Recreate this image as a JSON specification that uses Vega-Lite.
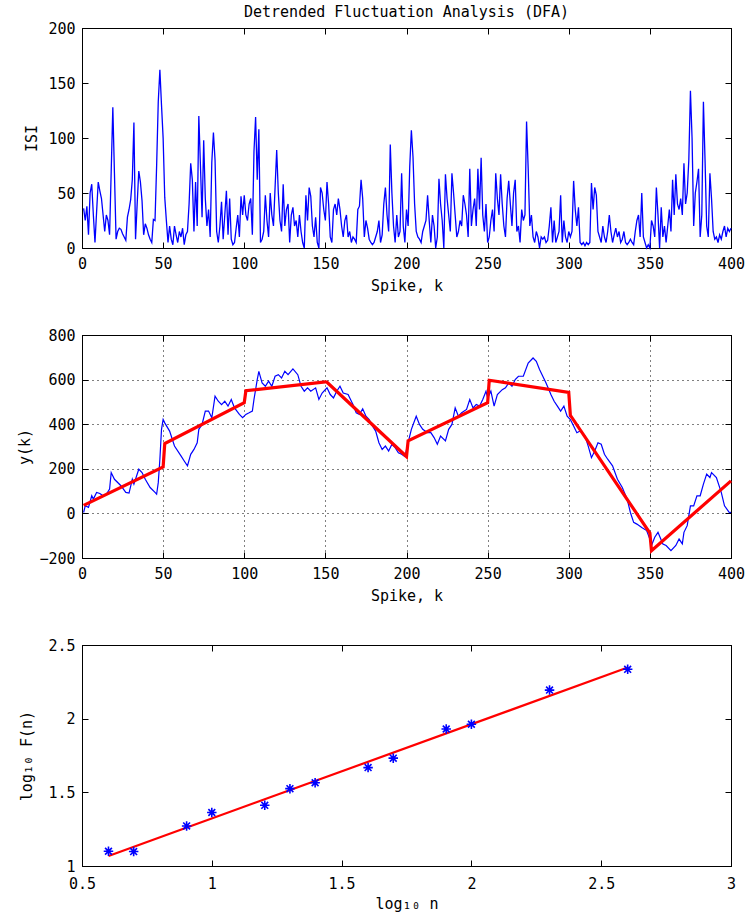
{
  "$schema": "https://vega.github.io/schema/vega-lite/v6.json",
  "background": "white",
  "padding": {"left": 17, "top": 4, "right": 2, "bottom": 8},
  "config": {
    "font": "DejaVu Sans Mono",
    "view": {"stroke": "black", "strokeWidth": 1},
    "axis": {
      "labelFont": "DejaVu Sans Mono", "titleFont": "DejaVu Sans Mono",
      "labelFontSize": 15, "titleFontSize": 15, "titleFontWeight": "normal",
      "labelColor": "black", "titleColor": "black",
      "domainColor": "black", "tickColor": "black", "tickSize": -6,
      "labelPadding": 13, "grid": false, "labelFlush": false, "labelOverlap": false
    },
    "axisX": {"labelPadding": 14},
    "title": {"font": "DejaVu Sans Mono", "fontSize": 15, "fontWeight": "normal", "color": "black"}
  },
  "datasets": {
    "isi": [
      {"k":1,"v":36},{"k":2,"v":25},{"k":3,"v":38},{"k":4,"v":12},{"k":5,"v":50},{"k":6,"v":58},{"k":7,"v":30},{"k":8,"v":5},{"k":9,"v":33},{"k":10,"v":60},
      {"k":11,"v":52},{"k":12,"v":45},{"k":13,"v":30},{"k":14,"v":15},{"k":15,"v":30},{"k":16,"v":25},{"k":17,"v":12},{"k":18,"v":70},{"k":19,"v":128},{"k":20,"v":68},
      {"k":21,"v":8},{"k":22,"v":15},{"k":23,"v":18},{"k":24,"v":17},{"k":25,"v":13},{"k":26,"v":10},{"k":27,"v":7},{"k":28,"v":28},{"k":29,"v":35},{"k":30,"v":44},
      {"k":31,"v":62},{"k":32,"v":114},{"k":33,"v":8},{"k":34,"v":40},{"k":35,"v":70},{"k":36,"v":60},{"k":37,"v":43},{"k":38,"v":12},{"k":39,"v":22},{"k":40,"v":18},
      {"k":41,"v":12},{"k":42,"v":8},{"k":43,"v":5},{"k":44,"v":26},{"k":45,"v":25},{"k":46,"v":75},{"k":47,"v":133},{"k":48,"v":162},{"k":49,"v":130},{"k":50,"v":100},
      {"k":51,"v":46},{"k":52,"v":25},{"k":53,"v":5},{"k":54,"v":20},{"k":55,"v":8},{"k":56,"v":3},{"k":57,"v":20},{"k":58,"v":12},{"k":59,"v":5},{"k":60,"v":15},
      {"k":61,"v":10},{"k":62,"v":18},{"k":63,"v":3},{"k":64,"v":12},{"k":65,"v":15},{"k":66,"v":40},{"k":67,"v":77},{"k":68,"v":62},{"k":69,"v":15},{"k":70,"v":60},
      {"k":71,"v":20},{"k":72,"v":120},{"k":73,"v":75},{"k":74,"v":28},{"k":75,"v":98},{"k":76,"v":45},{"k":77,"v":20},{"k":78,"v":35},{"k":79,"v":10},{"k":80,"v":78},
      {"k":81,"v":105},{"k":82,"v":80},{"k":83,"v":15},{"k":84,"v":5},{"k":85,"v":20},{"k":86,"v":42},{"k":87,"v":8},{"k":88,"v":30},{"k":89,"v":52},{"k":90,"v":12},
      {"k":91,"v":45},{"k":92,"v":8},{"k":93,"v":3},{"k":94,"v":5},{"k":95,"v":18},{"k":96,"v":30},{"k":97,"v":10},{"k":98,"v":47},{"k":99,"v":30},{"k":100,"v":48},
      {"k":101,"v":30},{"k":102,"v":25},{"k":103,"v":40},{"k":104,"v":45},{"k":105,"v":12},{"k":106,"v":88},{"k":107,"v":119},{"k":108,"v":62},{"k":109,"v":108},{"k":110,"v":5},
      {"k":111,"v":8},{"k":112,"v":15},{"k":113,"v":48},{"k":114,"v":25},{"k":115,"v":10},{"k":116,"v":50},{"k":117,"v":30},{"k":118,"v":20},{"k":119,"v":55},{"k":120,"v":89},
      {"k":121,"v":50},{"k":122,"v":25},{"k":123,"v":15},{"k":124,"v":58},{"k":125,"v":20},{"k":126,"v":35},{"k":127,"v":40},{"k":128,"v":5},{"k":129,"v":30},{"k":130,"v":37},
      {"k":131,"v":20},{"k":132,"v":25},{"k":133,"v":10},{"k":134,"v":30},{"k":135,"v":15},{"k":136,"v":5},{"k":137,"v":0},{"k":138,"v":48},{"k":139,"v":25},{"k":140,"v":55},
      {"k":141,"v":47},{"k":142,"v":20},{"k":143,"v":10},{"k":144,"v":28},{"k":145,"v":5},{"k":146,"v":0},{"k":147,"v":55},{"k":148,"v":50},{"k":149,"v":35},{"k":150,"v":25},
      {"k":151,"v":60},{"k":152,"v":40},{"k":153,"v":10},{"k":154,"v":5},{"k":155,"v":35},{"k":156,"v":40},{"k":157,"v":30},{"k":158,"v":45},{"k":159,"v":35},{"k":160,"v":20},
      {"k":161,"v":10},{"k":162,"v":25},{"k":163,"v":30},{"k":164,"v":10},{"k":165,"v":15},{"k":166,"v":5},{"k":167,"v":10},{"k":168,"v":8},{"k":169,"v":5},{"k":170,"v":35},
      {"k":171,"v":38},{"k":172,"v":62},{"k":173,"v":45},{"k":174,"v":10},{"k":175,"v":25},{"k":176,"v":18},{"k":177,"v":8},{"k":178,"v":5},{"k":179,"v":3},{"k":180,"v":5},
      {"k":181,"v":10},{"k":182,"v":15},{"k":183,"v":25},{"k":184,"v":5},{"k":185,"v":12},{"k":186,"v":40},{"k":187,"v":55},{"k":188,"v":30},{"k":189,"v":15},{"k":190,"v":94},
      {"k":191,"v":50},{"k":192,"v":20},{"k":193,"v":5},{"k":194,"v":30},{"k":195,"v":10},{"k":196,"v":15},{"k":197,"v":68},{"k":198,"v":20},{"k":199,"v":5},{"k":200,"v":35},
      {"k":201,"v":20},{"k":202,"v":74},{"k":203,"v":107},{"k":204,"v":83},{"k":205,"v":40},{"k":206,"v":15},{"k":207,"v":10},{"k":208,"v":8},{"k":209,"v":5},{"k":210,"v":15},
      {"k":211,"v":20},{"k":212,"v":25},{"k":213,"v":48},{"k":214,"v":25},{"k":215,"v":5},{"k":216,"v":30},{"k":217,"v":20},{"k":218,"v":0},{"k":219,"v":10},{"k":220,"v":63},
      {"k":221,"v":40},{"k":222,"v":25},{"k":223,"v":0},{"k":224,"v":67},{"k":225,"v":45},{"k":226,"v":30},{"k":227,"v":15},{"k":228,"v":68},{"k":229,"v":50},{"k":230,"v":30},
      {"k":231,"v":10},{"k":232,"v":15},{"k":233,"v":25},{"k":234,"v":20},{"k":235,"v":48},{"k":236,"v":40},{"k":237,"v":30},{"k":238,"v":10},{"k":239,"v":72},{"k":240,"v":20},
      {"k":241,"v":35},{"k":242,"v":45},{"k":243,"v":20},{"k":244,"v":72},{"k":245,"v":35},{"k":246,"v":82},{"k":247,"v":30},{"k":248,"v":15},{"k":249,"v":40},{"k":250,"v":5},
      {"k":251,"v":10},{"k":252,"v":25},{"k":253,"v":35},{"k":254,"v":15},{"k":255,"v":68},{"k":256,"v":45},{"k":257,"v":30},{"k":258,"v":67},{"k":259,"v":40},{"k":260,"v":20},
      {"k":261,"v":10},{"k":262,"v":45},{"k":263,"v":61},{"k":264,"v":40},{"k":265,"v":20},{"k":266,"v":50},{"k":267,"v":62},{"k":268,"v":15},{"k":269,"v":20},{"k":270,"v":5},
      {"k":271,"v":35},{"k":272,"v":25},{"k":273,"v":30},{"k":274,"v":115},{"k":275,"v":72},{"k":276,"v":20},{"k":277,"v":30},{"k":278,"v":10},{"k":279,"v":5},{"k":280,"v":15},
      {"k":281,"v":10},{"k":282,"v":0},{"k":283,"v":10},{"k":284,"v":8},{"k":285,"v":10},{"k":286,"v":5},{"k":287,"v":7},{"k":288,"v":20},{"k":289,"v":37},{"k":290,"v":5},
      {"k":291,"v":25},{"k":292,"v":5},{"k":293,"v":10},{"k":294,"v":15},{"k":295,"v":48},{"k":296,"v":5},{"k":297,"v":25},{"k":298,"v":10},{"k":299,"v":5},{"k":300,"v":15},
      {"k":301,"v":10},{"k":302,"v":15},{"k":303,"v":61},{"k":304,"v":35},{"k":305,"v":20},{"k":306,"v":37},{"k":307,"v":5},{"k":308,"v":3},{"k":309,"v":5},{"k":310,"v":2},
      {"k":311,"v":5},{"k":312,"v":3},{"k":313,"v":5},{"k":314,"v":59},{"k":315,"v":35},{"k":316,"v":55},{"k":317,"v":48},{"k":318,"v":15},{"k":319,"v":10},{"k":320,"v":5},
      {"k":321,"v":20},{"k":322,"v":10},{"k":323,"v":5},{"k":324,"v":15},{"k":325,"v":30},{"k":326,"v":15},{"k":327,"v":5},{"k":328,"v":12},{"k":329,"v":18},{"k":330,"v":10},
      {"k":331,"v":15},{"k":332,"v":5},{"k":333,"v":8},{"k":334,"v":15},{"k":335,"v":5},{"k":336,"v":3},{"k":337,"v":5},{"k":338,"v":8},{"k":339,"v":5},{"k":340,"v":3},
      {"k":341,"v":15},{"k":342,"v":25},{"k":343,"v":30},{"k":344,"v":10},{"k":345,"v":50},{"k":346,"v":10},{"k":347,"v":5},{"k":348,"v":0},{"k":349,"v":3},{"k":350,"v":0},
      {"k":351,"v":25},{"k":352,"v":20},{"k":353,"v":10},{"k":354,"v":55},{"k":355,"v":30},{"k":356,"v":0},{"k":357,"v":37},{"k":358,"v":10},{"k":359,"v":20},{"k":360,"v":5},
      {"k":361,"v":20},{"k":362,"v":35},{"k":363,"v":15},{"k":364,"v":62},{"k":365,"v":30},{"k":366,"v":67},{"k":367,"v":40},{"k":368,"v":35},{"k":369,"v":45},{"k":370,"v":30},
      {"k":371,"v":77},{"k":372,"v":40},{"k":373,"v":50},{"k":374,"v":80},{"k":375,"v":143},{"k":376,"v":100},{"k":377,"v":20},{"k":378,"v":50},{"k":379,"v":60},{"k":380,"v":72},
      {"k":381,"v":10},{"k":382,"v":30},{"k":383,"v":133},{"k":384,"v":80},{"k":385,"v":20},{"k":386,"v":10},{"k":387,"v":68},{"k":388,"v":45},{"k":389,"v":15},{"k":390,"v":8},
      {"k":391,"v":10},{"k":392,"v":5},{"k":393,"v":12},{"k":394,"v":8},{"k":395,"v":15},{"k":396,"v":20},{"k":397,"v":10},{"k":398,"v":18},{"k":399,"v":15},{"k":400,"v":18}
    ],
    "profile": [
      {"k":1,"y":4},{"k":2,"y":34},{"k":4,"y":27},{"k":6,"y":79},{"k":7,"y":64},{"k":9,"y":94},{"k":11,"y":89},{"k":13,"y":79},{"k":15,"y":86},{"k":17,"y":109},
      {"k":18,"y":183},{"k":20,"y":153},{"k":24,"y":124},{"k":27,"y":94},{"k":29,"y":91},{"k":31,"y":153},{"k":32,"y":131},{"k":35,"y":198},{"k":37,"y":183},{"k":39,"y":153},
      {"k":42,"y":116},{"k":45,"y":94},{"k":46,"y":86},{"k":47,"y":138},{"k":48,"y":243},{"k":49,"y":377},{"k":50,"y":421},{"k":51,"y":406},{"k":54,"y":369},{"k":57,"y":302},
      {"k":61,"y":258},{"k":63,"y":235},{"k":65,"y":213},{"k":67,"y":265},{"k":69,"y":287},{"k":71,"y":317},{"k":72,"y":377},{"k":74,"y":399},{"k":76,"y":459},{"k":78,"y":459},
      {"k":80,"y":429},{"k":82,"y":526},{"k":84,"y":503},{"k":86,"y":488},{"k":88,"y":503},{"k":90,"y":481},{"k":92,"y":511},{"k":94,"y":473},{"k":97,"y":444},{"k":99,"y":429},
      {"k":101,"y":444},{"k":103,"y":451},{"k":105,"y":459},{"k":106,"y":511},{"k":108,"y":600},{"k":109,"y":637},{"k":111,"y":585},{"k":113,"y":570},{"k":115,"y":593},{"k":117,"y":570},
      {"k":119,"y":615},{"k":121,"y":622},{"k":123,"y":607},{"k":125,"y":637},{"k":127,"y":622},{"k":130,"y":648},{"k":133,"y":622},{"k":135,"y":570},{"k":137,"y":548},{"k":139,"y":563},
      {"k":141,"y":548},{"k":144,"y":563},{"k":146,"y":511},{"k":148,"y":540},{"k":151,"y":563},{"k":153,"y":533},{"k":155,"y":518},{"k":157,"y":548},{"k":159,"y":570},{"k":161,"y":540},
      {"k":164,"y":533},{"k":167,"y":488},{"k":169,"y":451},{"k":171,"y":444},{"k":173,"y":469},{"k":175,"y":436},{"k":177,"y":421},{"k":179,"y":392},{"k":181,"y":369},{"k":183,"y":317},
      {"k":185,"y":287},{"k":187,"y":302},{"k":189,"y":280},{"k":191,"y":310},{"k":193,"y":295},{"k":195,"y":272},{"k":197,"y":265},{"k":199,"y":255},{"k":201,"y":317},{"k":203,"y":377},
      {"k":206,"y":436},{"k":208,"y":399},{"k":210,"y":377},{"k":213,"y":362},{"k":215,"y":362},{"k":217,"y":340},{"k":219,"y":310},{"k":221,"y":347},{"k":224,"y":325},{"k":226,"y":377},
      {"k":228,"y":399},{"k":230,"y":473},{"k":232,"y":436},{"k":234,"y":451},{"k":237,"y":466},{"k":239,"y":511},{"k":241,"y":473},{"k":243,"y":488},{"k":245,"y":481},{"k":247,"y":511},
      {"k":249,"y":548},{"k":250,"y":518},{"k":252,"y":548},{"k":254,"y":481},{"k":256,"y":533},{"k":259,"y":555},{"k":261,"y":563},{"k":263,"y":585},{"k":265,"y":570},{"k":267,"y":600},
      {"k":269,"y":615},{"k":272,"y":615},{"k":275,"y":674},{"k":278,"y":697},{"k":280,"y":682},{"k":282,"y":645},{"k":284,"y":615},{"k":286,"y":585},{"k":289,"y":533},{"k":291,"y":503},
      {"k":293,"y":481},{"k":295,"y":459},{"k":297,"y":481},{"k":299,"y":436},{"k":301,"y":421},{"k":303,"y":392},{"k":305,"y":362},{"k":307,"y":370},{"k":310,"y":347},{"k":312,"y":302},
      {"k":314,"y":250},{"k":316,"y":280},{"k":318,"y":317},{"k":320,"y":310},{"k":322,"y":265},{"k":324,"y":243},{"k":327,"y":213},{"k":330,"y":153},{"k":333,"y":116},{"k":336,"y":64},
      {"k":338,"y":4},{"k":340,"y":-40},{"k":342,"y":-48},{"k":345,"y":-63},{"k":348,"y":-77},{"k":350,"y":-115},{"k":351,"y":-144},{"k":353,"y":-107},{"k":355,"y":-85},{"k":358,"y":-137},
      {"k":360,"y":-144},{"k":363,"y":-167},{"k":366,"y":-144},{"k":368,"y":-115},{"k":370,"y":-137},{"k":371,"y":-85},{"k":373,"y":-55},{"k":375,"y":34},{"k":377,"y":34},{"k":379,"y":79},
      {"k":381,"y":79},{"k":383,"y":131},{"k":385,"y":176},{"k":387,"y":161},{"k":388,"y":183},{"k":391,"y":161},{"k":394,"y":94},{"k":396,"y":34},{"k":399,"y":4},{"k":400,"y":5}
    ],
    "trend": [
      {"k":1,"y":36},{"k":50,"y":208},{"k":51,"y":313},{"k":100,"y":496},{"k":101,"y":550},{"k":150,"y":590},
      {"k":151,"y":588},{"k":200,"y":255},{"k":201,"y":325},{"k":250,"y":496},{"k":251,"y":597},{"k":300,"y":543},
      {"k":301,"y":440},{"k":350,"y":-88},{"k":351,"y":-167},{"k":400,"y":146}
    ],
    "fluct": [
      {"logn":0.602,"logF":1.100},{"logn":0.699,"logF":1.098},{"logn":0.903,"logF":1.272},{"logn":1.000,"logF":1.363},
      {"logn":1.204,"logF":1.412},{"logn":1.301,"logF":1.525},{"logn":1.398,"logF":1.565},{"logn":1.602,"logF":1.668},
      {"logn":1.699,"logF":1.732},{"logn":1.903,"logF":1.930},{"logn":2.000,"logF":1.962},{"logn":2.301,"logF":2.194},
      {"logn":2.602,"logF":2.335}
    ],
    "fluctFit": [
      {"logn":0.602,"logF":1.068},{"logn":2.602,"logF":2.347}
    ]
  },
  "bounds": "flush",
  "spacing": 87,
  "vconcat": [
    {
      "width": 649,
      "height": 220,
      "title": {"text": "Detrended Fluctuation Analysis (DFA)", "offset": 1},
      "data": {"name": "isi"},
      "layer": [
        {
          "mark": {"type": "line", "color": "#0000ff", "strokeWidth": 1.3},
          "encoding": {
            "x": {"field": "k", "type": "quantitative", "scale": {"domain": [0, 400], "nice": false},
                  "axis": {"values": [0, 50, 100, 150, 200, 250, 300, 350, 400], "title": "Spike, k", "titlePadding": 7}},
            "y": {"field": "v", "type": "quantitative", "scale": {"domain": [0, 200], "nice": false},
                  "axis": {"values": [0, 50, 100, 150, 200], "title": "ISI", "titlePadding": 8}}
          }
        },
        {
          "mark": {"type": "point", "opacity": 0},
          "encoding": {
            "x": {"field": "k", "type": "quantitative", "axis": {"orient": "top", "labels": false, "title": null, "values": [0, 50, 100, 150, 200, 250, 300, 350, 400]}},
            "y": {"field": "v", "type": "quantitative", "axis": {"orient": "right", "labels": false, "title": null, "values": [0, 50, 100, 150, 200]}}
          }
        }
      ],
      "resolve": {"axis": {"x": "independent", "y": "independent"}}
    },
    {
      "width": 649,
      "height": 223,
      "layer": [
        {
          "data": {"name": "profile"},
          "mark": {"type": "line", "color": "#0000ff", "strokeWidth": 1.2},
          "encoding": {
            "x": {"field": "k", "type": "quantitative", "scale": {"domain": [0, 400], "nice": false},
                  "axis": {"values": [0, 50, 100, 150, 200, 250, 300, 350, 400], "title": "Spike, k", "titlePadding": 7,
                           "grid": true, "gridColor": "black", "gridDash": [1, 4], "gridOpacity": 1, "gridWidth": 1}},
            "y": {"field": "y", "type": "quantitative", "scale": {"domain": [-200, 800], "nice": false},
                  "axis": {"values": [-200, 0, 200, 400, 600, 800], "title": "y(k)", "titlePadding": 6,
                           "grid": true, "gridColor": "black", "gridDash": [1, 4], "gridOpacity": 1, "gridWidth": 1}}
          }
        },
        {
          "data": {"name": "trend"},
          "mark": {"type": "line", "color": "#ff0000", "strokeWidth": 3.2, "strokeJoin": "miter"},
          "encoding": {
            "x": {"field": "k", "type": "quantitative", "axis": {"orient": "top", "labels": false, "title": null, "values": [0, 50, 100, 150, 200, 250, 300, 350, 400]}},
            "y": {"field": "y", "type": "quantitative", "axis": {"orient": "right", "labels": false, "title": null, "values": [-200, 0, 200, 400, 600, 800]}}
          }
        }
      ],
      "resolve": {"axis": {"x": "independent", "y": "independent"}}
    },
    {
      "width": 649,
      "height": 221,
      "layer": [
        {
          "data": {"name": "fluctFit"},
          "mark": {"type": "line", "color": "#ff0000", "strokeWidth": 2.2},
          "encoding": {
            "x": {"field": "logn", "type": "quantitative", "scale": {"domain": [0.5, 3], "nice": false},
                  "axis": {"values": [0.5, 1, 1.5, 2, 2.5, 3], "format": "~g", "title": "log₁₀ n", "titlePadding": 5, "labelPadding": 16}},
            "y": {"field": "logF", "type": "quantitative", "scale": {"domain": [1, 2.5], "nice": false, "zero": false},
                  "axis": {"values": [1, 1.5, 2, 2.5], "format": "~g", "title": "log₁₀ F(n)", "titlePadding": 13}}
          }
        },
        {
          "data": {"name": "fluct"},
          "mark": {"type": "point", "shape": "M-1,0L1,0M0,-1L0,1M-0.72,-0.72L0.72,0.72M-0.72,0.72L0.72,-0.72",
                   "filled": false, "stroke": "#0000ff", "strokeWidth": 1.6, "size": 90, "opacity": 1},
          "encoding": {
            "x": {"field": "logn", "type": "quantitative", "axis": {"orient": "top", "labels": false, "title": null, "values": [0.5, 1, 1.5, 2, 2.5, 3]}},
            "y": {"field": "logF", "type": "quantitative", "axis": {"orient": "right", "labels": false, "title": null, "values": [1, 1.5, 2, 2.5]}}
          }
        }
      ],
      "resolve": {"axis": {"x": "independent", "y": "independent"}}
    }
  ]
}
